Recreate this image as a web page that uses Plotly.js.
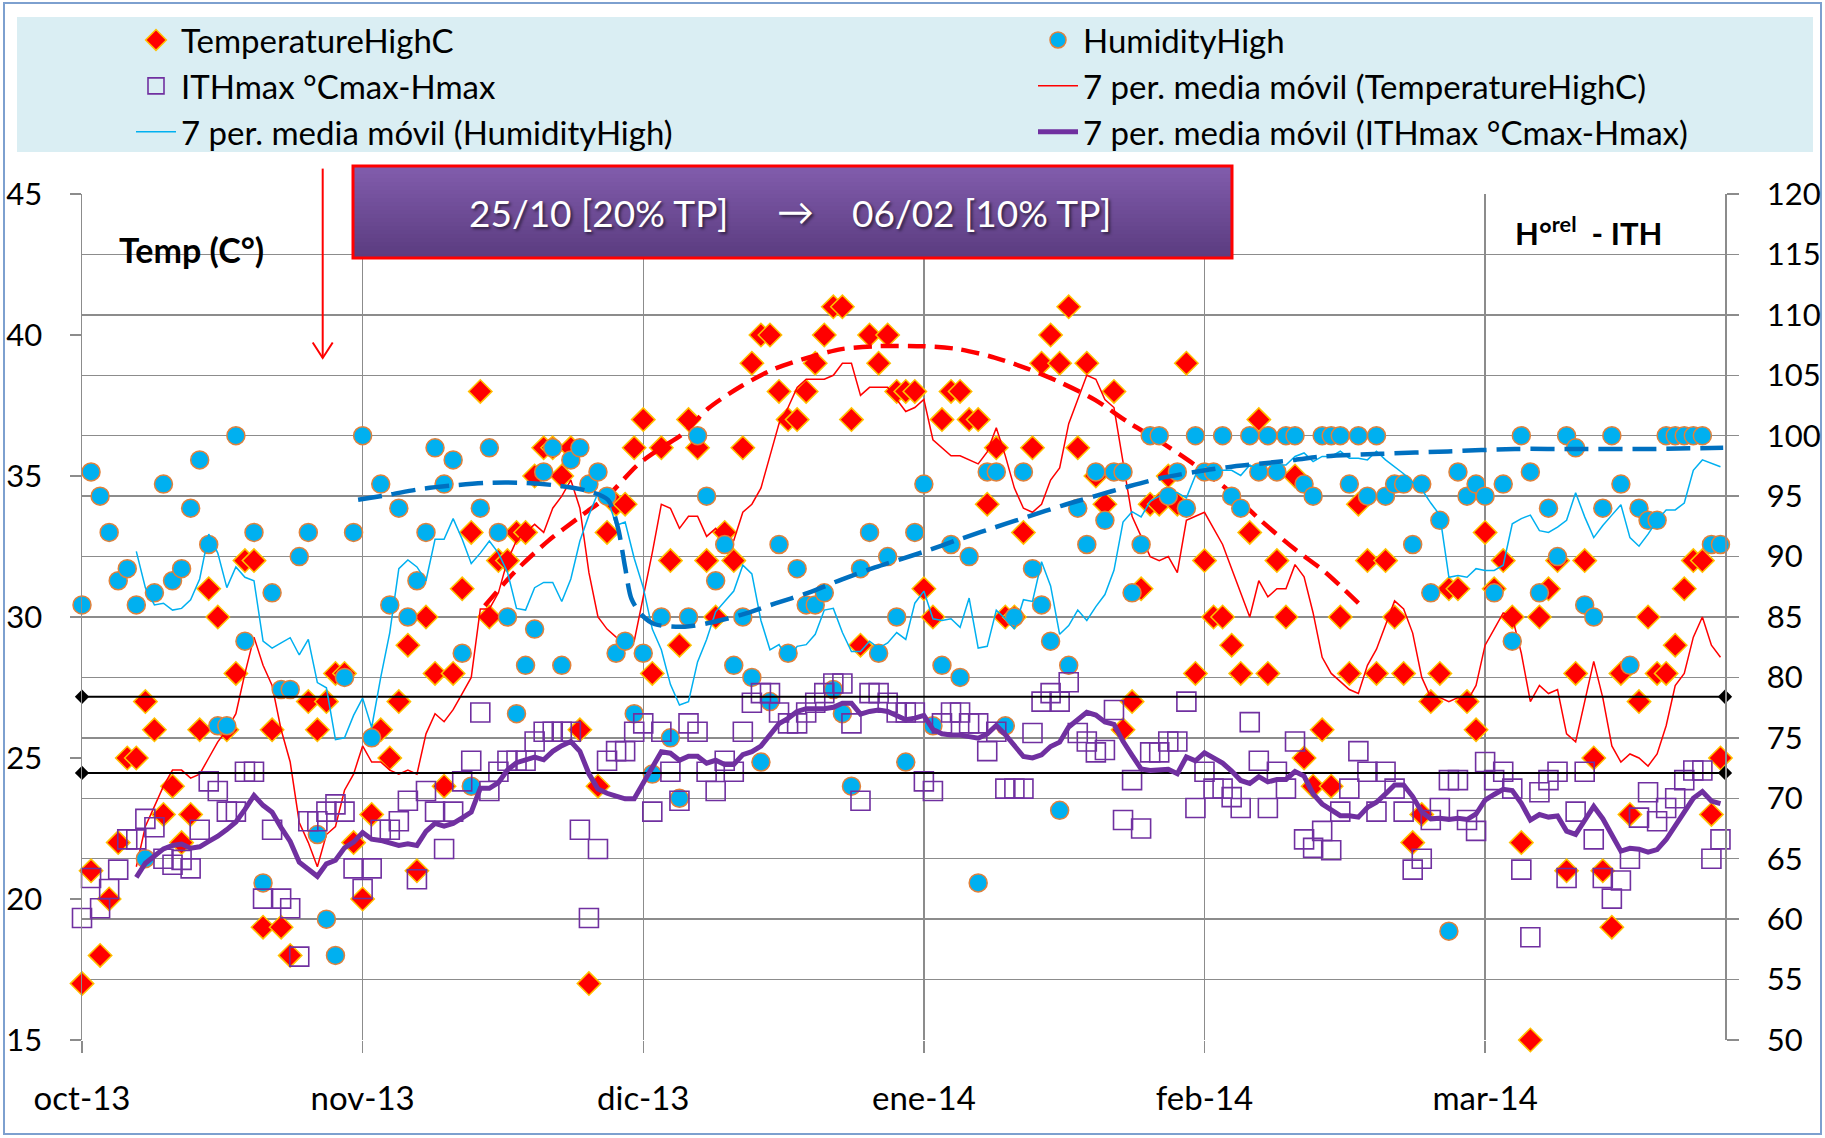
<!DOCTYPE html>
<html>
<head>
<meta charset="utf-8">
<script src="https://cdn.plot.ly/plotly-3.0.1.min.js"></script>
<style>
html,body{margin:0;padding:0;background:#ffffff;}
#chart{width:1825px;height:1138px;}
</style>
</head>
<body>
<div id="chart"></div>
<script>
// ---------------- DATA ----------------
const monthTicks = [0, 31, 62, 93, 124, 155];
const monthLabels = ['oct-13', 'nov-13', 'dic-13', 'ene-14', 'feb-14', 'mar-14'];

const temperatureHighC = [
  17,21,18,20,22,25,25,27,26,23, 24,22,23,26,31,30,26,28,32,32,
  19,26,19,18,13,27,26,27,28,28, 22,20,23,26,25,27,29,21,30,28,
  24,28,31,33,38,30,32,32,33,33, 35,36,36,35,36,26,17,24,33,34,
  34,36,37,28,36,32,29,37,36,32, 30,33,32,36,39,40,40,38,37,37,
  38,39,40,41,41,37,29,40,39,40, 38,38,38,31,30,37,38,38,37,37,
  34,36,30,30,33,36,39,40,39,41, 36,39,35,34,38,26,27,31,34,34,
  35,34,39,28,32,30,30,29,28,33, 37,28,32,30,35,25,24,26,24,30,
  28,34,32,28,32,30,28,22,23,27, 28,31,31,27,26,33,31,32,30,22,
  15,30,31,32,21,28,32,25,21,19, 28,23,27,30,28,28,29,31,32,32,
  23,25
];

const humidityHigh = [
  86,97,95,92,88,89,86,65,87,96, 88,89,94,98,91,76,76,100,83,92,
  63,87,79,79,90,92,67,60,57,80, 92,100,75,96,86,94,85,88,92,99,
  96,98,82,71,94,99,92,85,77,81, 84,97,99,81,98,99,96,97,95,82,
  83,77,82,72,85,75,70,85,100,95, 88,91,81,85,80,73,78,91,82,89,
  86,86,87,79,77,71,89,92,82,90, 85,73,92,96,76,81,91,80,90,63,
  97,97,76,85,97,89,86,83,69,81, 94,91,97,93,97,97,87,91,100,100,
  95,97,94,100,97,97,100,95,94,100, 97,100,97,100,100,96,95,100,100,100,
  96,100,95,100,95,96,96,91,96,87, 93,59,97,95,96,95,87,96,83,100,
  97,87,94,90,100,99,86,85,94,100, 96,81,94,93,93,100,100,100,100,100,
  91,91
];

const ithMax = [
  60.1,63.4,60.9,62.5,64.1,66.6,66.6,68.3,67.6,65.0, 64.5,64.9,64.2,67.4,71.4,70.6,68.9,68.9,72.2,72.2,
  61.7,67.4,61.7,60.9,56.9,68.1,68.1,68.9,69.5,68.9, 64.2,62.5,64.2,67.4,67.4,68.1,69.8,63.3,70.6,68.9,
  65.8,68.9,71.4,73.1,77.1,70.6,72.2,73.1,73.1,73.1, 74.7,75.5,75.5,75.5,75.5,67.4,60.1,65.8,73.1,73.9,
  73.9,75.5,76.2,68.9,75.5,72.2,69.8,76.2,75.5,72.2, 70.6,73.1,72.2,75.5,77.9,78.7,78.7,77.1,76.2,76.2,
  77.1,77.9,78.7,79.5,79.5,76.2,69.8,78.7,78.7,77.9, 77.1,77.1,77.1,71.4,70.6,76.2,77.1,77.1,76.2,76.2,
  73.9,75.5,70.8,70.8,70.8,75.4,78.0,78.7,78.0,79.6, 75.4,74.7,73.8,74.0,77.3,68.2,71.5,67.5,73.8,73.8,
  74.7,74.7,78.0,69.2,72.2,70.8,70.8,70.1,69.2,76.3, 73.1,69.2,72.2,70.8,74.7,66.6,65.9,67.3,65.7,68.9,
  70.8,73.9,72.2,68.9,72.2,70.8,68.9,64.1,65.0,68.2, 69.2,71.5,71.5,68.2,67.3,73.0,71.5,72.2,70.8,64.1,
  58.5,70.5,71.5,72.2,63.4,68.9,72.2,66.6,63.4,61.7, 63.2,65.0,68.4,70.5,68.1,69.2,70.0,71.5,72.3,72.3,
  65.0,66.6
];

const ithThresholds = [78.4, 72.1];

const tempTrendDay = [44.5,47.8,51.5,55.2,58.1,61.4,64.0,66.4,69.2,72.9,76.5,80.2,83.9,87.6,93.0,96.8,100.8,104.5,108.2,111.9,115.6,119.2,122.9,126.6,130.3,134.0,137.3,141.3];
const tempTrendValue = [30.4,31.6,32.7,33.6,34.3,35.4,36.0,36.5,37.4,38.2,38.8,39.2,39.5,39.6,39.6,39.5,39.2,38.8,38.3,37.7,36.9,36.2,35.4,34.5,33.4,32.4,31.6,30.4];

const humTrendDay = [30.5,33.8,37.5,41.2,44.9,48.6,52.2,56.0,58.1,59.2,60.0,60.7,61.8,63.3,66.6,69.2,72.9,76.5,80.2,83.9,87.6,93.0,96.8,102.0,104.5,108.2,111.9,115.6,119.2,122.9,126.6,130.3,134.0,137.3,143.5,150.9,158.3,165.6,172.6,181.3];
const humTrendValue = [94.7,95.1,95.6,95.9,96.1,96.1,95.9,95.4,94.7,92.4,89.1,86.5,85.2,84.4,84.2,84.5,85.2,86.1,87.0,88.1,89.1,90.4,91.4,92.7,93.3,94.2,95.0,95.8,96.5,97.0,97.4,97.7,98.0,98.3,98.5,98.7,98.9,98.9,98.9,99.0];

// ---------------- HELPERS ----------------
const days = temperatureHighC.map((_, i) => i);
function movingAverage(values, n) {
  return values.map((v, i) => {
    if (i < n - 1) return null;
    let s = 0;
    for (let k = i - n + 1; k <= i; k++) s += values[k];
    return s / n;
  });
}

const PL = 82, PR = 1725, PT = 194, PB = 1040;
const px2x = X => (X - PL) / (PR - PL);
const px2y = Y => (PB - Y) / (PB - PT);
const XMAX = 181.5;
const FONT = 'Lato, "Liberation Sans", Arial, sans-serif';
const GRID = '#8c8c8c';
const XTICKFONT = {family: FONT, size: 33, color: '#000'};
const YTICKFONT = {family: FONT, size: 31, color: '#000'};

// ---------------- TRACES ----------------
const traces = [
  {
    name: 'TemperatureHighC', x: days, y: temperatureHighC, type: 'scatter', mode: 'markers',
    yaxis: 'y', legend: 'legend', legendrank: 1, legendgroup: 'g1', cliponaxis: false,
    marker: {symbol: 'diamond', size: 18, color: '#FF0000', line: {color: '#FFC000', width: 1.5}}
  },
  {
    name: '7 per. media móvil (TemperatureHighC)', x: days, y: movingAverage(temperatureHighC, 7),
    type: 'scatter', mode: 'lines', yaxis: 'y', legend: 'legend2', legendrank: 2, legendgroup: 'g5',
    line: {color: '#FF0000', width: 1.5}
  },
  {
    x: tempTrendDay, y: tempTrendValue, type: 'scatter', mode: 'lines', yaxis: 'y', showlegend: false,
    line: {color: '#FF0000', width: 4.5, dash: '18px,9px', shape: 'spline', smoothing: 0.8}
  },
  {
    name: 'HumidityHigh', x: days, y: humidityHigh, type: 'scatter', mode: 'markers',
    yaxis: 'y2', legend: 'legend2', legendrank: 1, legendgroup: 'g4', cliponaxis: false,
    marker: {symbol: 'circle', size: 18, color: '#00B0F0', line: {color: '#E2813A', width: 1.5}}
  },
  {
    name: 'ITHmax °Cmax-Hmax', x: days, y: ithMax, type: 'scatter', mode: 'markers',
    yaxis: 'y2', legend: 'legend', legendrank: 2, legendgroup: 'g2', cliponaxis: false,
    marker: {symbol: 'square-open', size: 19, color: '#7030A0', line: {width: 1.6}}
  }
];
ithThresholds.forEach(v => {
  traces.push({
    x: [0, XMAX], y: [v, v], type: 'scatter', mode: 'lines+markers', yaxis: 'y2',
    showlegend: false, cliponaxis: false,
    line: {color: '#000000', width: 2},
    marker: {symbol: 'diamond', size: 11, color: '#000000'}
  });
});
traces.push(
  {
    name: '7 per. media móvil (HumidityHigh)', x: days, y: movingAverage(humidityHigh, 7),
    type: 'scatter', mode: 'lines', yaxis: 'y2', legend: 'legend', legendrank: 3, legendgroup: 'g3',
    line: {color: '#00B0F0', width: 1.5}
  },
  {
    name: '7 per. media móvil (ITHmax °Cmax-Hmax)', x: days, y: movingAverage(ithMax, 7),
    type: 'scatter', mode: 'lines', yaxis: 'y2', legend: 'legend2', legendrank: 3, legendgroup: 'g6',
    line: {color: '#7030A0', width: 5}
  },
  {
    x: humTrendDay, y: humTrendValue, type: 'scatter', mode: 'lines', yaxis: 'y2', showlegend: false,
    line: {color: '#0070C0', width: 4.5, dash: '24px,10px', shape: 'spline', smoothing: 0.8}
  }
);

// ---------------- SHAPES ----------------
const shapes = [];
shapes.push({type: 'rect', xref: 'paper', yref: 'paper', x0: px2x(4), x1: px2x(1821), y0: px2y(1134), y1: px2y(3),
  line: {color: '#7DA0CF', width: 2}, fillcolor: 'rgba(0,0,0,0)', layer: 'below'});
shapes.push({type: 'rect', xref: 'paper', yref: 'paper', x0: px2x(17), x1: px2x(1813), y0: px2y(152), y1: px2y(17),
  line: {width: 0}, fillcolor: '#DAEEF3', layer: 'below'});
const BX0 = 353, BX1 = 1232, BY0 = 166, BY1 = 258, NB = 23;
const cTop = [129, 92, 172], cBot = [91, 60, 128];
for (let i = 0; i < NB; i++) {
  const f = i / (NB - 1);
  const c = cTop.map((t, k) => Math.round(t + (cBot[k] - t) * f));
  const y0 = BY0 + (BY1 - BY0) * i / NB, y1 = BY0 + (BY1 - BY0) * (i + 1) / NB + 0.6;
  shapes.push({type: 'rect', xref: 'paper', yref: 'paper', x0: px2x(BX0), x1: px2x(BX1), y0: px2y(y1), y1: px2y(y0),
    line: {width: 0}, fillcolor: `rgb(${c[0]},${c[1]},${c[2]})`, layer: 'above'});
}
shapes.push({type: 'rect', xref: 'paper', yref: 'paper', x0: px2x(BX0), x1: px2x(BX1), y0: px2y(BY1), y1: px2y(BY0),
  line: {color: '#FF0000', width: 3}, fillcolor: 'rgba(0,0,0,0)', layer: 'above'});
shapes.push({type: 'line', xref: 'paper', yref: 'paper', x0: px2x(322.7), x1: px2x(322.7), y0: px2y(168.6), y1: px2y(358),
  line: {color: '#FF0000', width: 2}, layer: 'above'});
shapes.push({type: 'path', xref: 'paper', yref: 'paper',
  path: `M ${px2x(312.7)},${px2y(342.5)} L ${px2x(322.7)},${px2y(358)} L ${px2x(332.7)},${px2y(342.5)}`,
  line: {color: '#FF0000', width: 2}, layer: 'above'});

// ---------------- ANNOTATIONS ----------------
const boxFont = {family: FONT, size: 37, color: '#FFFFFF', shadow: '2px 2px 3px rgba(0,0,0,0.55)'};
const annotations = [
  {xref: 'paper', yref: 'paper', x: px2x(598), y: px2y(213), text: '25/10 [20% TP]', showarrow: false,
    xanchor: 'center', yanchor: 'middle', font: boxFont},
  {xref: 'paper', yref: 'paper', x: px2x(795), y: px2y(211), text: '→', showarrow: false,
    xanchor: 'center', yanchor: 'middle', font: boxFont},
  {xref: 'paper', yref: 'paper', x: px2x(981), y: px2y(213), text: '06/02 [10% TP]', showarrow: false,
    xanchor: 'center', yanchor: 'middle', font: boxFont},
  {xref: 'paper', yref: 'paper', x: px2x(191), y: px2y(249), text: '<b>Temp (C°)</b>', showarrow: false,
    xanchor: 'center', yanchor: 'middle', font: {family: FONT, size: 34, color: '#000'}},
  {xref: 'paper', yref: 'paper', x: px2x(1513), y: px2y(231), text: '<b>H°<sup>rel</sup>  - ITH</b>', showarrow: false,
    xanchor: 'left', yanchor: 'middle', font: {family: FONT, size: 31, color: '#000'}}
];

// ---------------- LAYOUT ----------------
const legendBase = {
  orientation: 'v', yanchor: 'top', xanchor: 'left', y: px2y(12),
  bgcolor: 'rgba(0,0,0,0)', borderwidth: 0, itemwidth: 40, tracegroupgap: 0,
  traceorder: 'normal', font: {family: FONT, size: 33, color: '#000'}
};
const layout = {
  width: 1825, height: 1138,
  margin: {l: PL, r: 1825 - PR, t: PT, b: 1138 - PB, pad: 0},
  paper_bgcolor: '#FFFFFF', plot_bgcolor: '#FFFFFF',
  font: {family: FONT, size: 31, color: '#000'},
  showlegend: true,
  legend: Object.assign({}, legendBase, {x: px2x(131)}),
  legend2: Object.assign({}, legendBase, {x: px2x(1033)}),
  xaxis: {
    range: [0, XMAX], tickmode: 'array', tickvals: monthTicks, ticktext: monthLabels,
    showgrid: true, gridcolor: GRID, gridwidth: 1.5, zeroline: false, showline: false,
    ticks: 'outside', ticklen: 12, tickwidth: 1.5, tickcolor: GRID,
    tickfont: XTICKFONT, ticklabelstandoff: 17
  },
  yaxis: {
    range: [15, 45], dtick: 5, tick0: 15, showgrid: false, zeroline: false,
    showline: true, linecolor: GRID, linewidth: 1.5,
    ticks: 'outside', ticklen: 11, tickwidth: 1.5, tickcolor: GRID,
    tickfont: YTICKFONT, ticklabelstandoff: 21
  },
  yaxis2: {
    range: [50, 120], dtick: 5, tick0: 50, overlaying: 'y', side: 'right',
    showgrid: true, gridcolor: GRID, gridwidth: 1.5, zeroline: false,
    showline: true, linecolor: GRID, linewidth: 1.5,
    ticks: 'outside', ticklen: 12, tickwidth: 1.5, tickcolor: GRID,
    tickfont: YTICKFONT, ticklabelstandoff: 22
  },
  shapes: shapes,
  annotations: annotations
};

Plotly.newPlot('chart', traces, layout, {displayModeBar: false, staticPlot: true});
</script>
</body>
</html>
